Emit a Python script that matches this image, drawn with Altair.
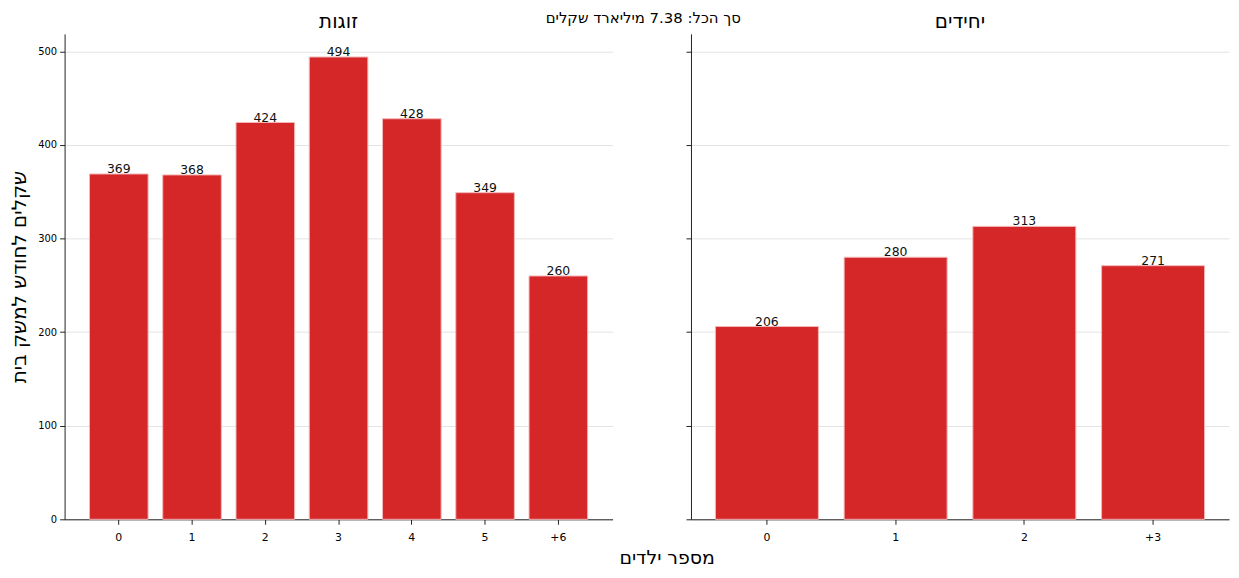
import altair as alt
import pandas as pd

couples_cat = ["0", "1", "2", "3", "4", "5", "+6"]
couples_val = [369, 368, 424, 494, 428, 349, 260]
singles_cat = ["0", "1", "2", "+3"]
singles_val = [206, 280, 313, 271]
y_ticks = [0, 100, 200, 300, 400, 500]

RED = "#d62728"
FONT = "DejaVu Sans"
YMAX = 518.7
H = 489


def panel(cats, vals, title, pad_outer, width, show_y):
    df = pd.DataFrame({"cat": cats, "val": vals})
    base = alt.Chart(df)
    yaxis = alt.Axis(
        values=y_ticks,
        labels=show_y,
        title="שקלים לחודש למשק בית" if show_y else None,
        titleFontSize=20,
        titleFont=FONT,
        titleFontWeight="normal",
        titleColor="#000",
        titlePadding=8,
        labelFontSize=10,
        labelFont=FONT,
        labelColor="#000",
        grid=True,
        gridColor="#e3e3e3",
        domainColor="#222",
        tickColor="#222",
        tickSize=5,
        labelPadding=3,
    )
    xaxis = alt.Axis(
        title=None,
        labelAngle=0,
        labelFontSize=11,
        labelFont=FONT,
        labelColor="#000",
        domainColor="#222",
        tickColor="#222",
        tickSize=5,
        labelPadding=7,
        grid=False,
    )
    x = alt.X("cat:N", sort=cats, axis=xaxis,
              scale=alt.Scale(paddingInner=0.2, paddingOuter=pad_outer))
    y = alt.Y("val:Q", axis=yaxis, scale=alt.Scale(domain=[0, YMAX], nice=False))
    bars = base.mark_bar(color=RED, stroke="#f4b6b6", strokeWidth=1).encode(x=x, y=y)
    labels = base.mark_text(baseline="bottom", dy=2, fontSize=12.5, font=FONT, color="#111").encode(
        x=x, y=y, text="val:Q")
    return alt.layer(bars, labels).properties(
        width=width, height=H,
        title=alt.TitleParams(title, fontSize=20, font=FONT, fontWeight="normal",
                              anchor="middle", offset=2, color="#000"),
    )


left = panel(couples_cat, couples_val, "זוגות", 0.34, 552, True)
right = panel(singles_cat, singles_val, "יחידים", 0.19, 542, False)

top = alt.hconcat(
    left, right, spacing=73,
    title=alt.TitleParams("סך הכל: 7.38 מיליארד שקלים", fontSize=15, font=FONT,
                          fontWeight="normal", anchor="middle", offset=-14, dx=24,
                          color="#000"),
)

chart = alt.vconcat(
    top,
    title=alt.TitleParams("מספר ילדים", orient="bottom", fontSize=19, font=FONT,
                          fontWeight="normal", anchor="middle", offset=7, dx=48,
                          color="#000"),
).properties(
    padding={"left": 1, "top": 1, "right": 2, "bottom": 0}
).configure_view(stroke=None).configure_concat(spacing=0)

chart.save("out.html", embed_options={"renderer": "svg", "actions": False})
